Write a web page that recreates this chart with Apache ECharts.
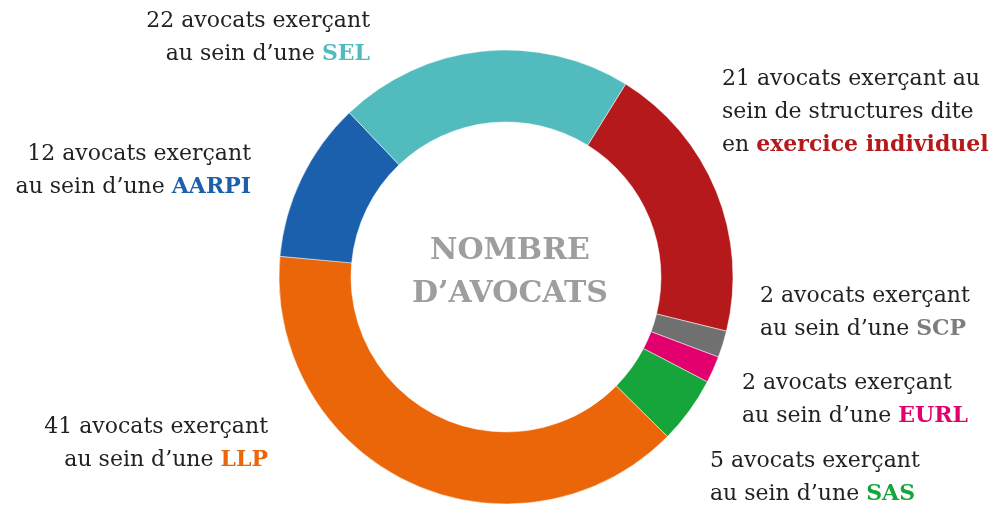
<!DOCTYPE html>
<html>
<head>
    <meta http-equiv="Content-Type" content="text/html; charset=utf-8" />
    <title></title>
    <script type="text/javascript" src="https://cdn.jsdelivr.net/npm/echarts@6/dist/echarts.min.js"></script>
    <style>
        html, body { margin: 0; padding: 0; background: #fff; }
        #chart { width: 991px; height: 506px; }
    </style>
</head>
<body>
    <div id="chart"></div>
    <script>
        // données (sens horaire à partir du haut-droite)
        var names = ['exercice individuel', 'SCP', 'EURL', 'SAS', 'LLP', 'AARPI', 'SEL'];
        var values = [21, 2, 2, 5, 41, 12, 22];
        var leads = [
            'avocats exerçant au\nsein de structures dite\nen',
            'avocats exerçant\nau sein d’une',
            'avocats exerçant\nau sein d’une',
            'avocats exerçant\nau sein d’une',
            'avocats exerçant\nau sein d’une',
            'avocats exerçant\nau sein d’une',
            'avocats exerçant\nau sein d’une'
        ];
        var colors = ['#B5191B', '#707070', '#E2006F', '#16A53A', '#EA6609', '#1B60AC', '#52BBBE'];
        var keyColors = ['#B5191B', '#7d7d7d', '#E2006F', '#16A53A', '#EA6609', '#1B60AC', '#52BBBE'];

        // position des étiquettes [x, y, align]
        var labelPos = [
            [722, 112, 'left'],
            [760, 313, 'left'],
            [742, 400, 'left'],
            [710, 478, 'left'],
            [268, 444, 'right'],
            [251, 171, 'right'],
            [370, 38, 'right']
        ];

        var myChart = echarts.init(document.getElementById('chart'));

        var data = names.map(function (n, i) {
            return {
                name: n,
                value: values[i],
                itemStyle: { color: colors[i] },
                label: {
                    align: labelPos[i][2],
                    rich: {
                        k: { color: keyColors[i], fontWeight: 'bold', fontSize: 22, fontFamily: 'DejaVu Serif', lineHeight: 33 }
                    }
                }
            };
        });

        var option = {
            backgroundColor: '#fff',
            animation: false,
            graphic: [{
                type: 'text',
                x: 510,
                y: 230,
                style: {
                    text: 'NOMBRE\nD’AVOCATS',
                    align: 'center',
                    font: 'bold 30px "DejaVu Serif"',
                    lineHeight: 43,
                    fill: '#9e9e9e'
                }
            }],
            series: [{
                type: 'pie',
                center: [506, 277],
                radius: [155, 227],
                startAngle: 58.2,
                clockwise: true,
                avoidLabelOverlap: false,
                itemStyle: { borderColor: '#fff', borderWidth: 0.5 },
                emphasis: { disabled: true },
                labelLine: { show: false },
                label: {
                    show: true,
                    position: 'outside',
                    fontFamily: 'DejaVu Serif',
                    fontSize: 22,
                    lineHeight: 33,
                    color: '#222',
                    formatter: function (p) {
                        return p.value + ' ' + leads[p.dataIndex] + ' {k|' + p.name + '}';
                    }
                },
                labelLayout: function (params) {
                    var p = labelPos[params.dataIndex];
                    return { x: p[0], y: p[1], align: p[2], verticalAlign: 'middle', hideOverlap: false };
                },
                data: data
            }]
        };
        myChart.setOption(option);
    </script>
</body>
</html>
